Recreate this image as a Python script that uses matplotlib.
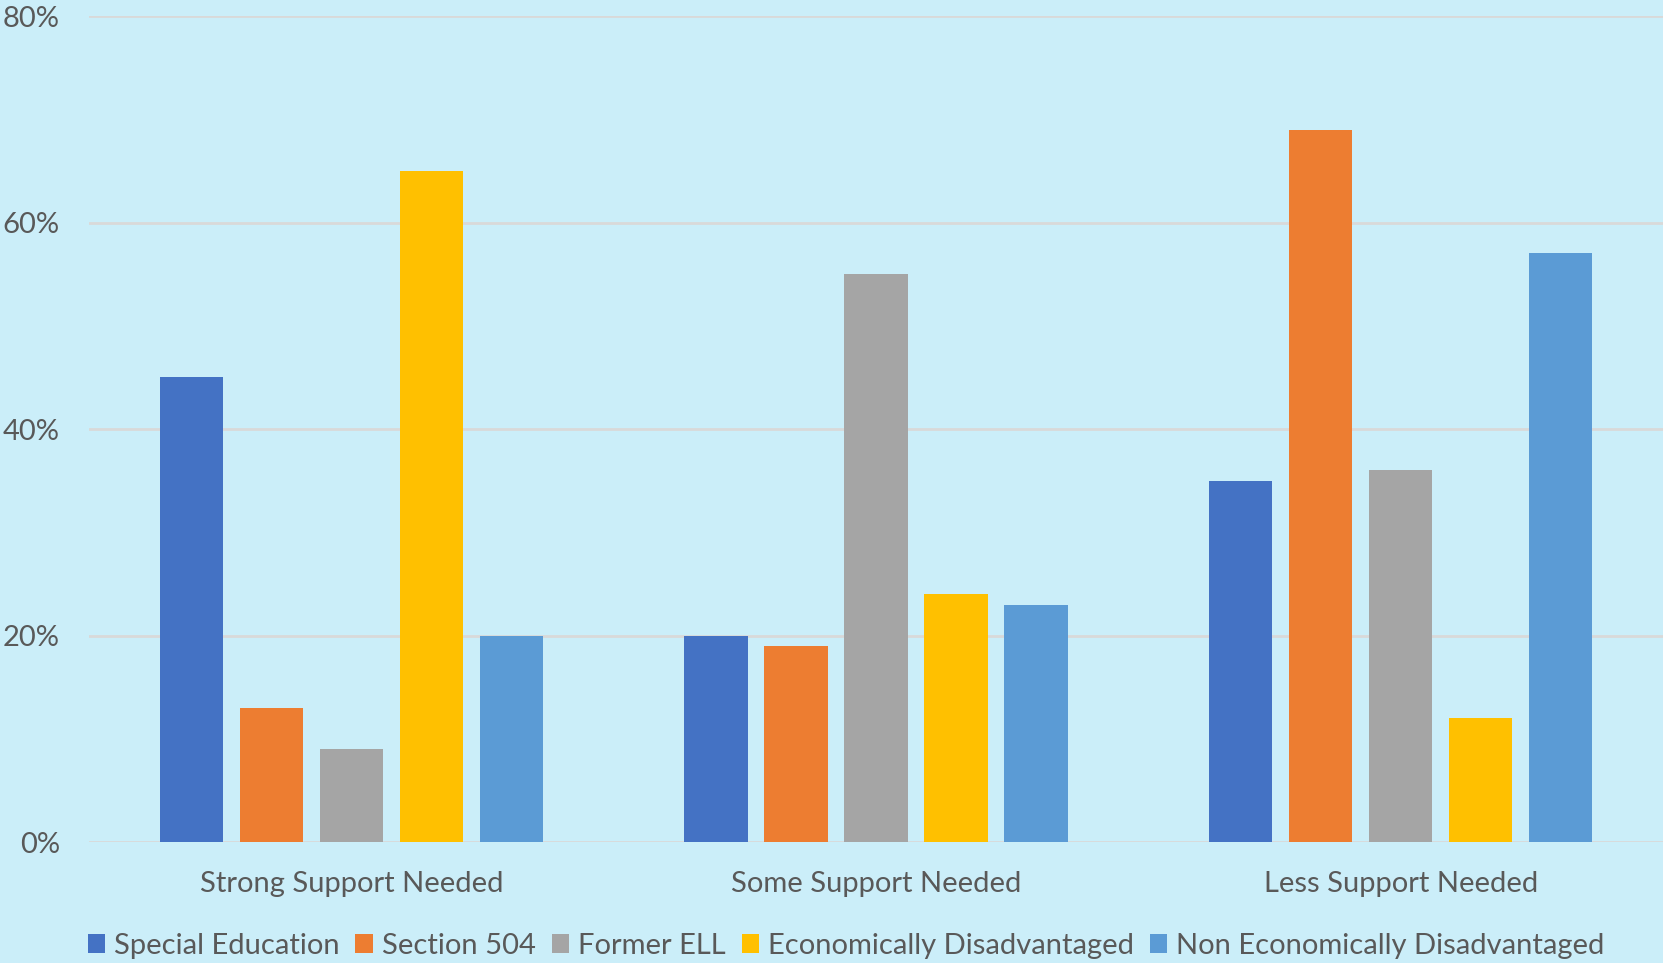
import matplotlib
matplotlib.use("Agg")
import matplotlib.pyplot as plt
import numpy as np
from matplotlib.ticker import PercentFormatter

categories = ["Strong Support Needed", "Some Support Needed", "Less Support Needed"]
series_names = ["Special Education", "Section 504", "Former ELL",
                "Economically Disadvantaged", "Non Economically Disadvantaged"]
special_education = [0.45, 0.20, 0.35]
section_504 = [0.13, 0.19, 0.69]
former_ell = [0.09, 0.55, 0.36]
econ_disadv = [0.65, 0.24, 0.12]
non_econ_disadv = [0.20, 0.23, 0.57]
yticks = [0.0, 0.2, 0.4, 0.6, 0.8]

series = [special_education, section_504, former_ell, econ_disadv, non_econ_disadv]
colors = ["#4472C4", "#ED7D31", "#A5A5A5", "#FFC000", "#5B9BD5"]
bg = "#CBEEF9"
text_color = "#595959"

plt.rcParams['font.family'] = ['Lato', 'DejaVu Sans']

fig = plt.figure(figsize=(16.63, 9.63), dpi=100, facecolor=bg)
ax = fig.add_axes([89/1663, 1 - 842/963, 1 - 89/1663, (842 - 16)/963])
ax.set_facecolor(bg)

x = np.arange(len(categories))
width = 0.121
pitch = 0.1525
for i, (vals, name, c) in enumerate(zip(series, series_names, colors)):
    ax.bar(x + (i - 2) * pitch, vals, width, color=c, label=name, zorder=3)

ax.set_xlim(-0.5, 2.5)
ax.set_ylim(0, 0.8)
ax.set_yticks(yticks)
ax.yaxis.set_major_formatter(PercentFormatter(1.0, decimals=0))
ax.grid(axis='y', color="#D9D9D9", linewidth=2, zorder=0)
ax.set_axisbelow(True)
for s in ax.spines.values():
    s.set_visible(False)
ax.tick_params(axis='both', length=0, colors=text_color, labelsize=21)
ax.tick_params(axis='y', pad=21)
ax.tick_params(axis='x', pad=21)
ax.set_xticks(x)
ax.set_xticklabels(categories)

handles, labels = ax.get_legend_handles_labels()
leg = fig.legend(handles, labels, loc='center', bbox_to_anchor=(846/1663, 1 - 946/963),
                 ncol=5, frameon=False, fontsize=21, handlelength=0.6, handleheight=0.6,
                 handletextpad=0.3, columnspacing=0.55, labelcolor=text_color)

fig.savefig("out.png", dpi=100, facecolor=bg)
